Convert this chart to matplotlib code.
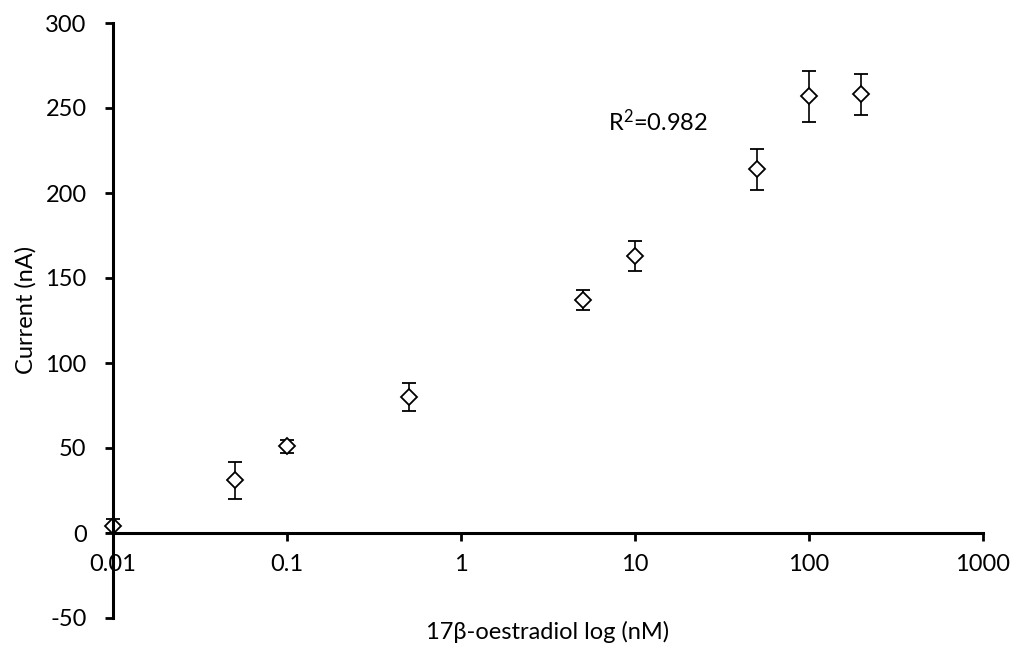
import numpy as np
import matplotlib.pyplot as plt

# concentrations (nM) and measured current (nA)
conc = [0.01, 0.05, 0.1, 0.5, 5, 10, 50, 100, 200]
current = [4, 31, 51, 80, 137, 163, 214, 257, 258]
err = [4, 11, 4, 8, 6, 9, 12, 15, 12]

plt.rcParams['font.family'] = ['Lato', 'DejaVu Sans']
plt.rcParams['axes.unicode_minus'] = False
plt.rcParams['mathtext.fontset'] = 'custom'
plt.rcParams['mathtext.rm'] = 'Lato'
plt.rcParams['mathtext.it'] = 'Lato'
plt.rcParams['mathtext.default'] = 'regular'

fig = plt.figure(figsize=(10.17, 6.48), dpi=100)
ax = fig.add_axes([113/1017, 1 - 618/648, 870/1017, 595/648])

ax.errorbar(conc, current, yerr=err, fmt='D', mfc='white', mec='black',
            ms=8, mew=1.3, ecolor='black', elinewidth=1.2, capsize=5,
            capthick=1.2, color='black', clip_on=False)

ax.set_xscale('log')
ax.set_xlim(0.01, 1000)
ax.set_ylim(-50, 300)
ax.set_yticks([-50, 0, 50, 100, 150, 200, 250, 300])
ax.set_xticks([0.01, 0.1, 1, 10, 100, 1000])
ax.set_xticklabels(['0.01', '0.1', '1', '10', '100', '1000'])
ax.minorticks_off()

ax.spines['top'].set_visible(False)
ax.spines['right'].set_visible(False)
ax.spines['bottom'].set_position(('data', 0))
for s in ['left', 'bottom']:
    ax.spines[s].set_linewidth(2.2)
ax.tick_params(axis='both', direction='out', length=6, width=2, labelsize=17)
ax.tick_params(axis='y', pad=13)
ax.tick_params(axis='x', pad=9)

ax.set_xlabel('17β-oestradiol log (nM)', fontsize=17, va='center')
ax.xaxis.set_label_coords(0.5, -0.0235)
ax.set_ylabel('Current (nA)', fontsize=17, va='center')
ax.yaxis.set_label_coords(-0.1, 0.518)

ax.text(7.0, 242, 'R$^{2}$=0.982', fontsize=17, ha='left', va='center')

fig.savefig('out.png', dpi=100)
